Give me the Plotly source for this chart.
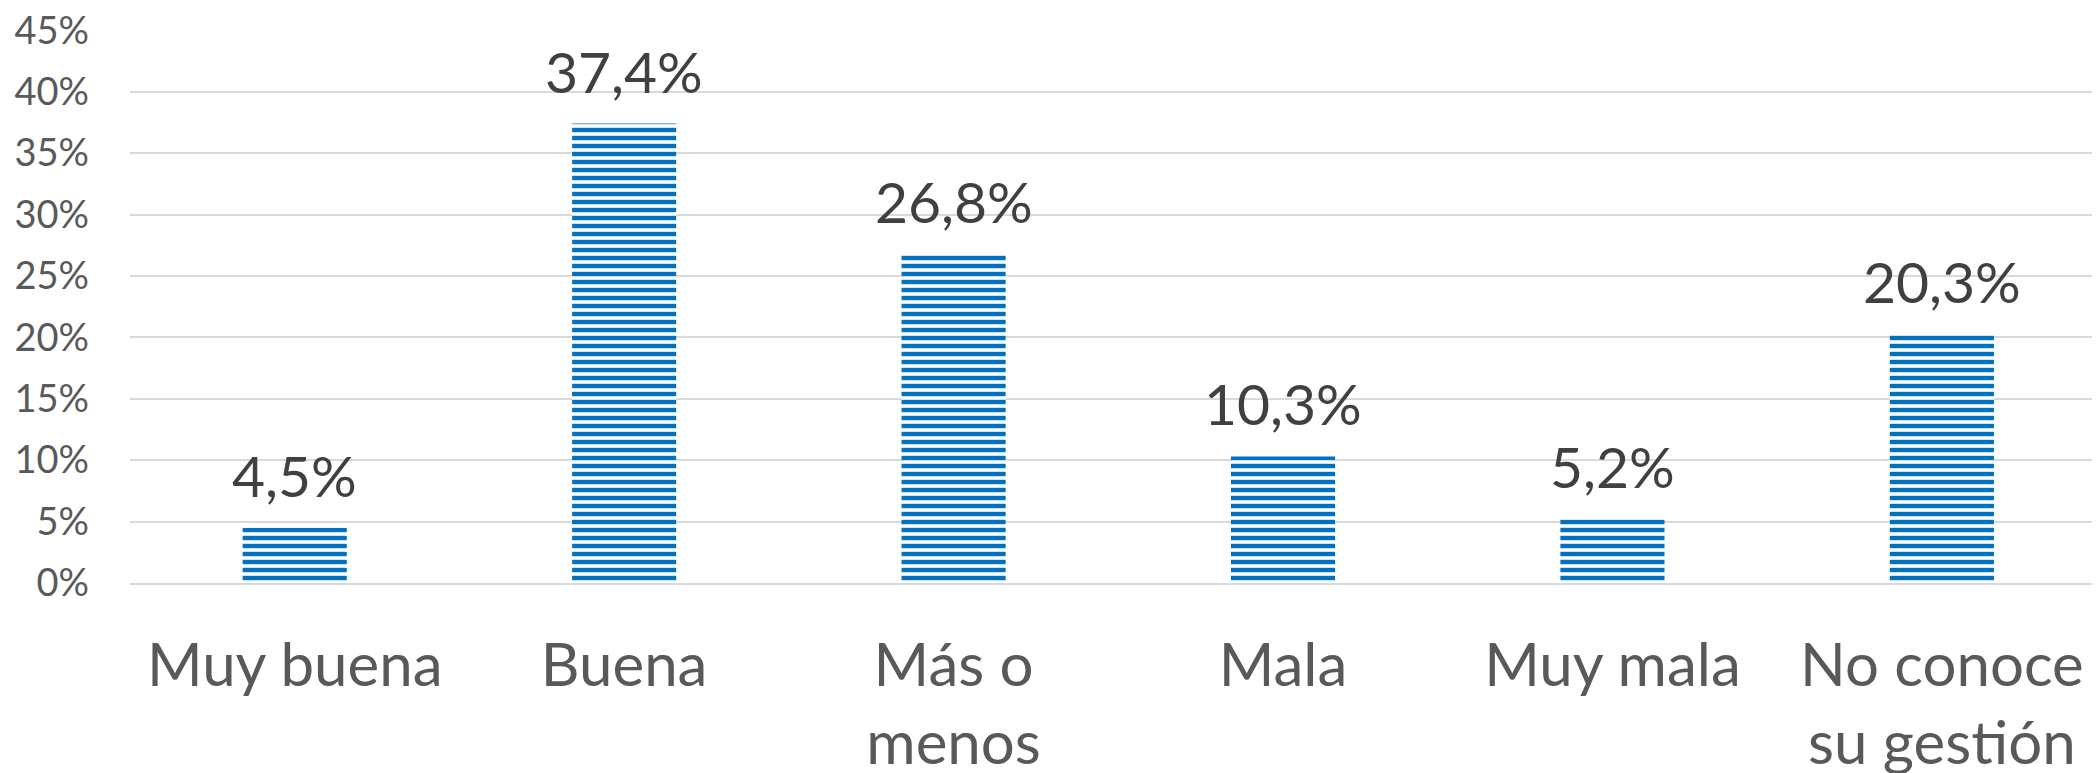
import plotly.graph_objects as go

categories = ["Muy buena", "Buena", "Más o<br>menos", "Mala", "Muy mala", "No conoce<br>su gestión"]
values = [4.5, 37.4, 26.8, 10.3, 5.2, 20.3]
y_ticks = [0, 5, 10, 15, 20, 25, 30, 35, 40, 45]

FONT = "Lato"
labels = [f"{v:.1f}".replace(".", ",") + "%" for v in values]

fig = go.Figure()
fig.add_trace(go.Bar(
    x=categories,
    y=values,
    marker=dict(
        color="white",
        line=dict(width=0),
        pattern=dict(shape="-", size=8, solidity=0.55, fgcolor="#0070C0", bgcolor="white", fillmode="replace"),
    ),
    hoverinfo="skip",
))

for c, v, t in zip(categories, values, labels):
    fig.add_annotation(
        x=c, y=v, text=t, showarrow=False, yanchor="bottom", yshift=17,
        font=dict(family=FONT, size=57, color="#404040"),
    )

# page body has an 8px default margin, so the figure is sized to fit the window
fig.update_layout(
    width=2092, height=765,
    margin=dict(l=122, r=0, t=22, b=190),
    paper_bgcolor="white", plot_bgcolor="white",
    bargap=0.684,
    showlegend=False,
    font=dict(family=FONT),
)
fig.update_xaxes(
    range=[-0.5, 5.48],
    automargin=False,
    showgrid=False,
    showline=True, linecolor="#d9d9d9", linewidth=2,
    ticks="", ticklabelstandoff=29,
    ticklabeloverflow="allow",
    tickfont=dict(family=FONT, size=60, color="#595959"),
)
fig.update_yaxes(
    range=[0, 45.02],
    automargin=False,
    tickvals=y_ticks,
    ticktext=[f"{t}%" for t in y_ticks],
    showgrid=True, gridcolor="#d9d9d9", gridwidth=2,
    zeroline=False, showline=False,
    ticks="", ticklabelstandoff=40,
    ticklabeloverflow="allow",
    tickfont=dict(family=FONT, size=38, color="#595959"),
)

fig.write_html("out.html")
